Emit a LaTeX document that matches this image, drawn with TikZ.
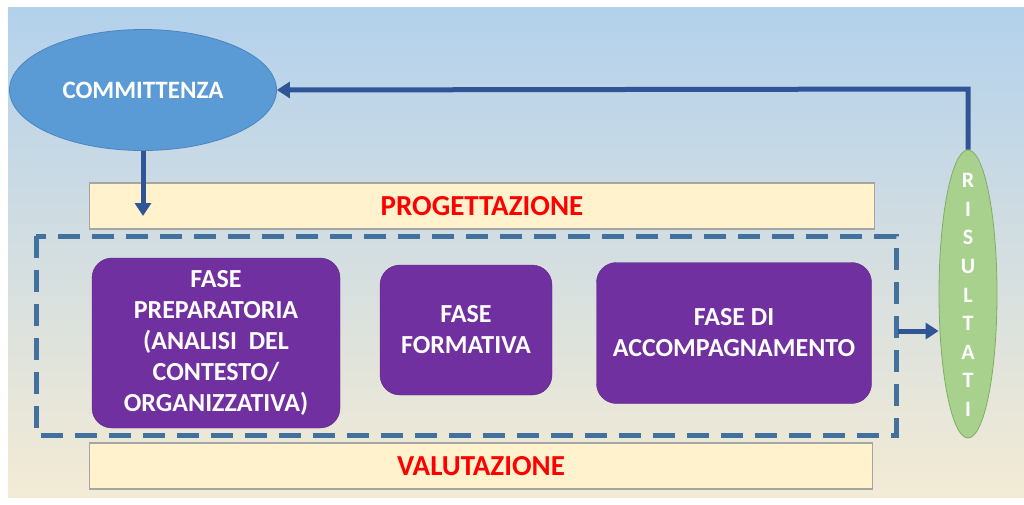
\documentclass[tikz,border=0pt]{standalone}
\usepackage{fontspec}
\setmainfont{Carlito}
\usetikzlibrary{shapes.geometric,arrows.meta}
\definecolor{bgtop}{HTML}{B3D1EC}
\definecolor{bgbot}{HTML}{F3EBD5}
\definecolor{ellblue}{HTML}{5B9BD5}
\definecolor{ellblueb}{HTML}{4A86BE}
\definecolor{arrblue}{HTML}{2F5597}
\definecolor{dashblue}{HTML}{41719C}
\definecolor{barfill}{HTML}{FFF2CC}
\definecolor{barline}{HTML}{A5A5A5}
\definecolor{purp}{HTML}{7030A0}
\definecolor{grn}{HTML}{A9D18E}
\definecolor{grnb}{HTML}{7FAE63}
\tikzset{
  bar/.style={draw=barline, line width=1.2pt, fill=barfill, minimum height=46pt, text=red, font=\bfseries\fontsize{29}{32}\selectfont},
  phase/.style={fill=purp, draw=purp!80!black, rounded corners=20pt, text=white, align=center, font=\bfseries\fontsize{26}{31}\selectfont},
  flow/.style={draw=arrblue, line width=5pt, -{Triangle[length=13pt,width=16pt]}},
}
\begin{document}
\begin{tikzpicture}[x=1pt,y=-1pt]
\useasboundingbox (0,0) rectangle (1024,504);
\shade[top color=bgtop, bottom color=bgbot] (8,7) rectangle (1024,497);
% bars
\node[bar, minimum width=785pt] (prog) at (482,206) {PROGETTAZIONE};
\node[bar, minimum width=783pt] (val) at (481,466) {VALUTAZIONE};
% dashed frame
\draw[dashblue, line width=5pt, dash pattern=on 22pt off 12pt] (36,236) rectangle (896,435);
\coordinate (frameR) at (898,331);
% phases
\node[phase, minimum width=248pt, minimum height=170pt] (p1) at (216,343) {FASE\\PREPARATORIA\\(ANALISI\ \ DEL\\CONTESTO/\\ORGANIZZATIVA)};
\node[phase, minimum width=172pt, minimum height=130pt] (p2) at (466,330) {FASE\\FORMATIVA};
\node[phase, minimum width=275pt, minimum height=141pt] (p3) at (734,333) {FASE DI\\ACCOMPAGNAMENTO};
% ellipses
\node[ellipse, fill=ellblue, draw=ellblueb, line width=0.8pt, minimum width=267pt, minimum height=121pt, inner sep=0pt, text=white, font=\bfseries\fontsize{25}{28}\selectfont] (comm) at (143,90) {COMMITTENZA};
\node[ellipse, fill=grn, draw=grnb, line width=0.8pt, minimum width=58pt, minimum height=288pt, inner sep=0pt] (ris) at (968,294) {};
\node[text=white, align=center, font=\bfseries\fontsize{22}{28.6}\selectfont] (rtxt) at (968,295) {R\\I\\S\\U\\L\\T\\A\\T\\I};
% connectors
\draw[flow] (comm.south) -- (143,216);
\draw[flow] (frameR) -- (frameR -| ris.west);
\draw[flow] (ris.north) -- (968,89) -- (comm.east);
\end{tikzpicture}
\end{document}
